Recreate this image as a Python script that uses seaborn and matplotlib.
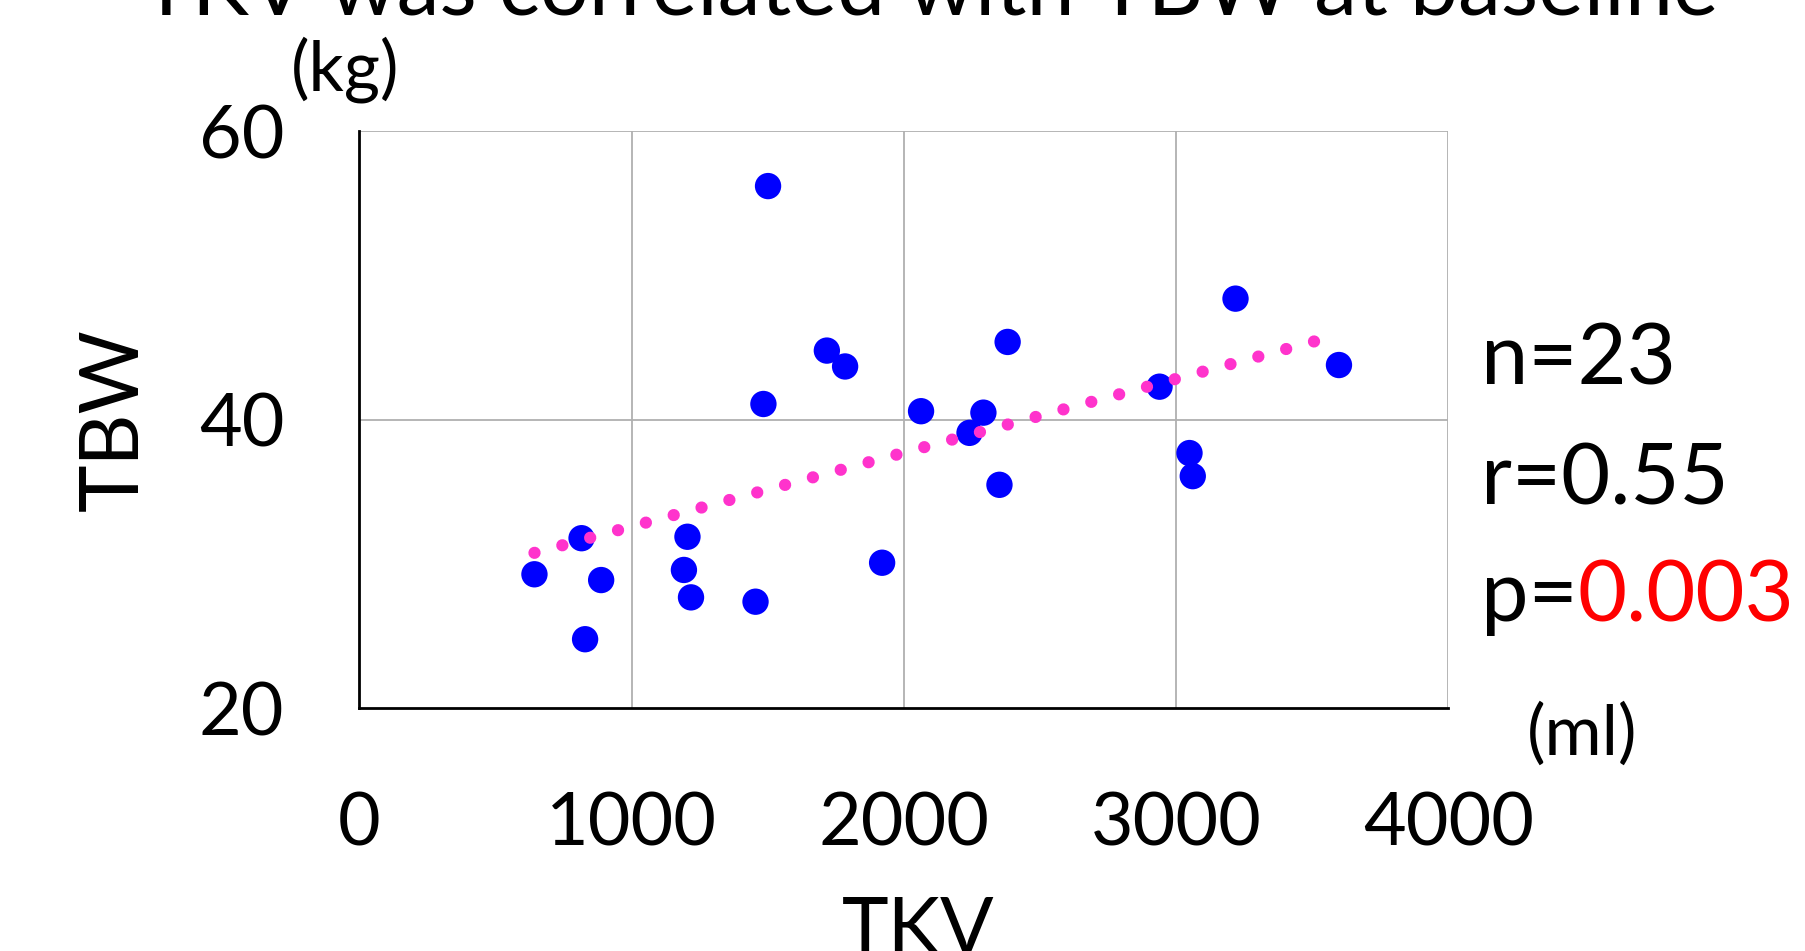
import numpy as np
import pandas as pd
import matplotlib
matplotlib.use("Agg")
import matplotlib.pyplot as plt
import seaborn as sns

# -----------------------------
# Data
# -----------------------------
tkv = [643, 816, 829, 888, 1205, 1192, 1218, 1455, 1501, 1484, 1717, 1784,
       1920, 2063, 2241, 2292, 2351, 2381, 2939, 3049, 3061, 3218, 3598]
tbw = [29.3, 31.8, 24.8, 28.9, 31.9, 29.6, 27.7, 27.4, 56.2, 41.1, 44.8, 43.7,
       30.1, 40.6, 39.1, 40.5, 35.5, 45.4, 42.3, 37.7, 36.1, 48.4, 43.8]
x_ticks = [0, 1000, 2000, 3000, 4000]
y_ticks = [20, 40, 60]

df = pd.DataFrame({"TKV": tkv, "TBW": tbw})

sns.set_style("white")
plt.rcParams["font.family"] = ["Lato", "DejaVu Sans"]
plt.rcParams["text.color"] = "black"
plt.rcParams["axes.labelcolor"] = "black"
plt.rcParams["xtick.color"] = "black"
plt.rcParams["ytick.color"] = "black"

fig = plt.figure(figsize=(18.06, 9.51), dpi=100)
ax = fig.add_axes([0.199, 0.255, 0.603, 0.607])

# grid
for xv in [1000, 2000, 3000, 4000]:
    ax.axvline(xv, color="#b0b0b0", lw=1.3, zorder=0)
for yv in [40, 60]:
    ax.axhline(yv, color="#b0b0b0", lw=1.3, zorder=0)

# trend line (dotted pink)
sns.regplot(data=df, x="TKV", y="TBW", scatter=False, ci=None, ax=ax,
            line_kws=dict(color="#ff33cc", lw=8.8, linestyle=(0, (0.01, 2.35)),
                          dash_capstyle="round", zorder=3))

# points
sns.scatterplot(data=df, x="TKV", y="TBW", ax=ax, color="#0000ff", s=360,
                edgecolor="none", zorder=2)

ax.set_xlim(0, 4000)
ax.set_ylim(20, 60)
ax.set_xticks(x_ticks)
ax.set_yticks(y_ticks)
ax.tick_params(axis="x", labelsize=53, pad=60, length=0)
ax.tick_params(axis="y", labelsize=53, pad=54, length=0)

for side in ["left", "bottom"]:
    ax.spines[side].set_color("black")
    ax.spines[side].set_linewidth(2)
for side in ["top", "right"]:
    ax.spines[side].set_visible(False)

ax.set_xlabel("TKV", fontsize=57)
ax.xaxis.set_label_coords(0.513, -0.325)
ax.set_ylabel("TBW", fontsize=58, labelpad=34)

# title (cut off at the top in the original)
fig.text(0.515, 0.985, "TKV was correlated with TBW at baseline", fontsize=62,
         ha="center", va="baseline")

# units
fig.text(0.191, 0.927, "(kg)", fontsize=50, ha="center", va="center")
fig.text(0.876, 0.228, "(ml)", fontsize=50, ha="center", va="center")

# stats
fig.text(0.820, 0.621, "n=23", fontsize=61, ha="left", va="center")
fig.text(0.820, 0.495, "r=0.55", fontsize=61, ha="left", va="center")
t = fig.text(0.820, 0.372, "p=", fontsize=61, ha="left", va="center")
fig.canvas.draw()
bb = t.get_window_extent()
x_end = bb.x1 / fig.bbox.width
fig.text(x_end, 0.372, "0.003", fontsize=61, ha="left", va="center", color="red")

plt.savefig("out.png", dpi=100)
